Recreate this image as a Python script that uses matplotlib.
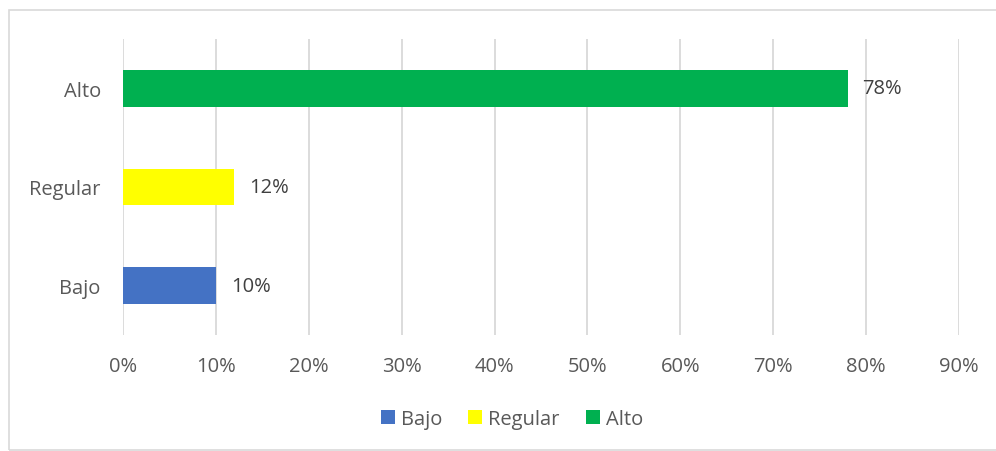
import matplotlib
matplotlib.use("Agg")
import matplotlib.pyplot as plt
from matplotlib.patches import Patch, Rectangle

categories = ["Bajo", "Regular", "Alto"]
values = [10, 12, 78]
colors = ["#4472C4", "#FFFF00", "#00B050"]
xticks = [0, 10, 20, 30, 40, 50, 60, 70, 80, 90]

plt.rcParams['font.family'] = ['Open Sans', 'DejaVu Sans']
txt = "#595959"
fs = 14.5

fig = plt.figure(figsize=(9.96, 4.52), dpi=100)
ax = fig.add_axes([123/996, 1-336/452, (959-123)/996, (336-40)/452])

ypos = list(range(len(categories)))
ax.barh(ypos, values, height=0.37, color=colors, zorder=3)
for y, v in zip(ypos, values):
    ax.annotate(f"{v}%", (v, y), xytext=(15, 0), textcoords="offset pixels",
                va="center", ha="left", fontsize=fs, color="#404040")

ax.set_xlim(0, 90)
ax.set_ylim(-0.5, 2.5)
ax.set_yticks(ypos)
ax.set_yticklabels(categories, fontsize=fs, color=txt)
ax.set_xticks(xticks)
ax.set_xticklabels([f"{t}%" for t in xticks], fontsize=fs, color=txt)
ax.tick_params(axis='both', length=0)
ax.tick_params(axis='x', pad=15)
ax.tick_params(axis='y', pad=16)
ax.grid(axis='x', color="#D9D9D9", linewidth=1.3, zorder=0)
for s in ax.spines.values():
    s.set_visible(False)

handles = [Patch(facecolor=c, label=l) for c, l in zip(colors, categories)]
leg = fig.legend(handles=handles, loc="center", bbox_to_anchor=(512/996, 1-420/452), ncol=3,
                 frameon=False, fontsize=fs, handlelength=0.7, handleheight=0.7,
                 handletextpad=0.3, columnspacing=1.3)
for t in leg.get_texts():
    t.set_color(txt)

fig.patches.append(Rectangle((9/996, 0.003), 1.0, 1-11/452-0.003, transform=fig.transFigure,
                             fill=False, edgecolor="#D9D9D9", linewidth=1.2))

fig.savefig("out.png", dpi=100)
